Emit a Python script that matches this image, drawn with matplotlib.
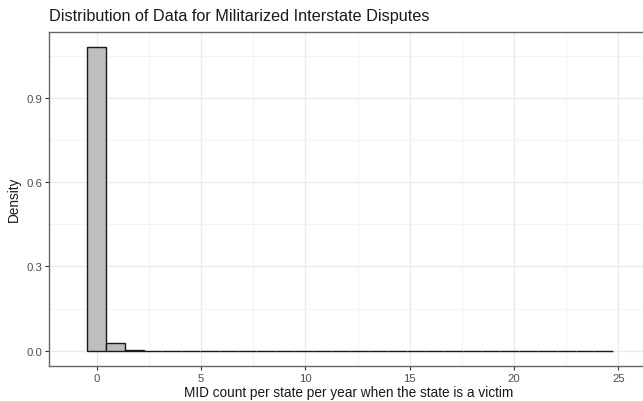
import matplotlib
matplotlib.use("Agg")
import matplotlib.pyplot as plt
import numpy as np

plt.rcParams['font.family'] = ['Liberation Sans', 'DejaVu Sans']

# Histogram (density) data
bin_width = 0.9
first_edge = -0.45
densities = [1.080, 0.029, 0.003] + [0.0] * 25
x_ticks = [0, 5, 10, 15, 20, 25]
x_minor = [2.5, 7.5, 12.5, 17.5, 22.5]
y_ticks = [0.0, 0.3, 0.6, 0.9]
y_minor = [0.15, 0.45, 0.75, 1.05]
y_tick_labels = ["0.0", "0.3", "0.6", "0.9"]
title = "Distribution of Data for Militarized Interstate Disputes"
x_label = "MID count per state per year when the state is a victim"
y_label = "Density"

fig = plt.figure(figsize=(6.43, 4.02), dpi=100)
ax = fig.add_axes([49/643, 35.3/402, 599/643, 334/402])

lefts = first_edge + bin_width * np.arange(len(densities))
ax.bar(lefts, densities, width=bin_width, align='edge',
       color='#BEBEBE', edgecolor='#1a1a1a', linewidth=1.0, zorder=3)

ax.set_xticks(x_ticks)
ax.set_xticks(x_minor, minor=True)
ax.set_yticks(y_ticks)
ax.set_yticks(y_minor, minor=True)
ax.set_yticklabels(y_tick_labels)
ax.set_xlim(-2.29, 26.42)
ax.set_ylim(-0.0534, 1.136)
ax.grid(which='major', color='#EBEBEB', linewidth=1.0, zorder=0)
ax.grid(which='minor', color='#F2F2F2', linewidth=0.6, zorder=0)
ax.set_axisbelow(True)

for s in ax.spines.values():
    s.set_color('#666666')
    s.set_linewidth(1.0)

ax.tick_params(which='major', length=3, width=0.8, color='#333333',
               labelsize=8.2, labelcolor='#4D4D4D', pad=2)
ax.tick_params(which='minor', length=0)

ax.set_xlabel(x_label, fontsize=9.8, color='#1a1a1a', labelpad=2)
ax.set_ylabel(y_label, fontsize=9.8, color='#1a1a1a', labelpad=4)
fig.text(49/643, 1 - 16/402, title, fontsize=11.7, color='#1a1a1a',
         ha='left', va='center')

fig.savefig("out.png", dpi=100)
